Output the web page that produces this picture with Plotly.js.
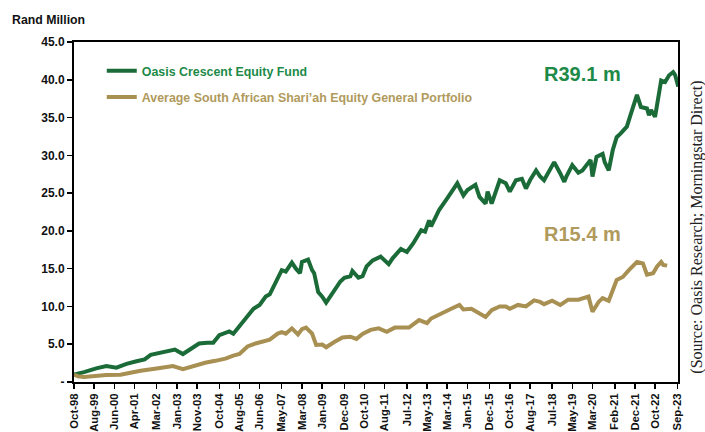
<!DOCTYPE html>
<html>
<head>
<meta charset="utf-8">
<script src="https://cdn.plot.ly/plotly-3.0.1.min.js"></script>
<style>
html,body{margin:0;padding:0;background:#fff;}
#chart{width:705px;height:432px;}
</style>
</head>
<body>
<div id="chart"></div>
<script>
// Oasis Crescent Equity Fund (Rand Million)
var fundDates = ['1998-10','1999-03','1999-09','2000-02','2000-07','2000-12','2001-05','2001-09','2001-12','2002-05','2002-09','2002-12','2003-04','2003-09','2003-12','2004-04','2004-07','2004-10','2005-03','2005-05','2005-10','2006-01','2006-03','2006-06','2006-09','2006-11','2007-02','2007-05','2007-07','2007-10','2007-12','2008-02','2008-03','2008-06','2008-08','2008-09','2008-11','2009-01','2009-03','2009-05','2009-07','2009-10','2009-12','2010-03','2010-04','2010-07','2010-09','2010-11','2011-02','2011-06','2011-10','2011-12','2012-04','2012-07','2012-10','2013-02','2013-04','2013-06','2013-07','2013-11','2014-03','2014-08','2014-11','2015-01','2015-05','2015-07','2015-10','2015-11','2016-01','2016-05','2016-08','2016-10','2017-01','2017-04','2017-06','2017-08','2017-11','2018-01','2018-03','2018-06','2018-08','2018-11','2019-01','2019-02','2019-05','2019-08','2019-10','2020-02','2020-03','2020-05','2020-08','2020-09','2020-11','2021-01','2021-03','2021-05','2021-08','2021-10','2022-01','2022-03','2022-06','2022-07','2022-08','2022-10','2022-12','2023-01','2023-03','2023-05','2023-07','2023-08','2023-09-15'];
var fundValues = [1.0,1.3,1.8,2.1,1.9,2.4,2.75,3.0,3.6,3.9,4.1,4.3,3.7,4.5,5.1,5.2,5.2,6.2,6.7,6.4,8.0,9.1,9.7,10.2,11.3,11.6,13.1,14.8,14.6,15.8,15.0,14.4,15.9,16.2,14.8,14.4,11.9,11.3,10.5,11.3,12.2,13.3,13.8,14.0,14.7,13.8,14.0,15.3,16.1,16.6,15.6,16.4,17.6,17.2,18.3,20.1,19.9,21.4,20.6,22.8,24.3,26.3,24.7,25.4,26.1,24.5,23.6,25.2,23.6,26.7,26.3,25.2,26.7,26.9,25.6,26.7,28.0,27.2,26.7,28.0,29.1,27.6,26.5,27.2,28.7,27.7,28.0,29.4,27.2,29.8,30.2,29.1,28.0,30.7,32.4,32.9,33.8,35.5,38.0,36.4,36.2,35.3,36.0,35.1,38.2,39.9,39.7,40.6,41.0,40.6,39.1];

// Average South African Shari'ah Equity General Portfolio (Rand Million)
var peerDates = ['1998-10','1998-12','1999-03','1999-08','2000-02','2000-09','2000-12','2001-07','2002-03','2002-11','2003-04','2003-09','2004-03','2004-08','2005-01','2005-05','2005-08','2005-12','2006-04','2006-11','2007-03','2007-05','2007-07','2007-10','2008-01','2008-03','2008-05','2008-08','2008-10','2009-01','2009-03','2009-07','2009-11','2010-03','2010-06','2010-09','2011-01','2011-05','2011-09','2012-01','2012-04','2012-08','2013-01','2013-05','2013-07','2013-12','2014-05','2014-09','2014-11','2015-03','2015-07','2015-10','2016-01','2016-05','2016-08','2016-10','2017-02','2017-06','2017-10','2018-01','2018-03','2018-07','2018-11','2019-03','2019-08','2020-01','2020-03','2020-06','2020-08','2020-11','2021-03','2021-06','2021-09','2022-01','2022-04','2022-06','2022-09','2022-11','2023-01','2023-02','2023-04'];
var peerValues = [1.0,0.75,0.65,0.8,0.93,0.95,1.15,1.5,1.8,2.1,1.7,2.1,2.55,2.8,3.1,3.5,3.7,4.7,5.1,5.6,6.4,6.6,6.4,7.1,6.3,7.0,7.2,6.4,4.9,4.95,4.6,5.3,5.9,6.0,5.7,6.35,6.9,7.1,6.65,7.2,7.2,7.2,8.2,7.8,8.4,9.1,9.7,10.2,9.6,9.7,9.1,8.6,9.5,10.0,10.0,9.7,10.2,10.0,10.8,10.6,10.3,10.75,10.2,10.9,10.9,11.3,9.3,10.6,11.1,10.75,13.5,13.9,14.8,15.9,15.7,14.2,14.4,15.3,15.9,15.5,15.4];

var seriesNames = ['Oasis Crescent Equity Fund', 'Average South African Shari\u2019ah Equity General Portfolio'];
var endLabels = ['R39.1 m', 'R15.4 m'];

var xTickDates = ['1998-10-01','1999-08-01','2000-06-01','2001-04-01','2002-03-01','2003-01-01','2003-11-01','2004-10-01','2005-08-01','2006-06-01','2007-05-01','2008-03-01','2009-01-01','2009-12-01','2010-10-01','2011-08-01','2012-07-01','2013-05-01','2014-03-01','2015-01-01','2015-12-01','2016-10-01','2017-08-01','2018-07-01','2019-05-01','2020-03-01','2021-02-01','2021-12-01','2022-10-01','2023-09-01'];
var xTickLabels = ['Oct-98','Aug-99','Jun-00','Apr-01','Mar-02','Jan-03','Nov-03','Oct-04','Aug-05','Jun-06','May-07','Mar-08','Jan-09','Dec-09','Oct-10','Aug-11','Jul-12','May-13','Mar-14','Jan-15','Dec-15','Oct-16','Aug-17','Jul-18','May-19','Mar-20','Feb-21','Dec-21','Oct-22','Sep-23'];
var yTickVals = [0,5,10,15,20,25,30,35,40,45];
var yTickLabels = ['-','5.0','10.0','15.0','20.0','25.0','30.0','35.0','40.0','45.0'];

var GREEN = '#1b6b38', GOLD = '#a88f52';
var GREEN_TXT = '#1d8a48', GOLD_TXT = '#b09a5c';
var SANS = 'Liberation Sans, Arial, sans-serif';

var traces = [
  {x: fundDates, y: fundValues, type: 'scatter', mode: 'lines',
   name: '<span style="color:' + GREEN_TXT + '">' + seriesNames[0] + '</span>',
   legendgroup: 'a', line: {color: GREEN, width: 4}, hoverinfo: 'skip'},
  {x: peerDates, y: peerValues, type: 'scatter', mode: 'lines',
   name: '<span style="color:' + GOLD_TXT + '">' + seriesNames[1] + '</span>',
   legendgroup: 'b', line: {color: GOLD, width: 4}, hoverinfo: 'skip'}
];

var layout = {
  width: 705, height: 432,
  margin: {l: 74, r: 27, t: 42, b: 50},
  paper_bgcolor: '#fff', plot_bgcolor: '#fff',
  showlegend: true,
  legend: {x: 0.046, y: 0.958, xanchor: 'left', yanchor: 'top',
           bgcolor: 'rgba(0,0,0,0)', traceorder: 'grouped', tracegroupgap: 7,
           font: {family: SANS, size: 12.4, weight: 'bold'}},
  xaxis: {type: 'date', range: ['1998-10-01', '2023-09-12'],
          tickmode: 'array', tickvals: xTickDates, ticktext: xTickLabels,
          tickangle: -90, tickfont: {family: SANS, size: 11.3, color: '#111', weight: 'bold'},
          ticks: 'outside', ticklen: 5, tickwidth: 1.5, tickcolor: '#000',
          showline: true, linecolor: '#000', linewidth: 2, mirror: true,
          showgrid: false, zeroline: false, automargin: false, fixedrange: true},
  yaxis: {range: [0, 45], tickmode: 'array', tickvals: yTickVals, ticktext: yTickLabels,
          tickfont: {family: SANS, size: 12, color: '#111', weight: 'bold'},
          ticks: 'outside', ticklen: 5, tickwidth: 1.5, tickcolor: '#000',
          showline: true, linecolor: '#000', linewidth: 2, mirror: true,
          showgrid: false, zeroline: false, automargin: false, fixedrange: true},
  annotations: [
    {xref: 'paper', yref: 'paper', x: -0.106, y: 1.065, xanchor: 'left', yanchor: 'middle',
     text: 'Rand Million', showarrow: false, font: {family: SANS, size: 12.3, color: '#111', weight: 'bold'}},
    {xref: 'paper', yref: 'paper', x: 0.842, y: 0.905, xanchor: 'center', yanchor: 'middle',
     text: endLabels[0], showarrow: false, font: {family: SANS, size: 20, color: GREEN_TXT, weight: 'bold'}},
    {xref: 'paper', yref: 'paper', x: 0.842, y: 0.435, xanchor: 'center', yanchor: 'middle',
     text: endLabels[1], showarrow: false, font: {family: SANS, size: 20, color: GOLD_TXT, weight: 'bold'}},
    {xref: 'paper', yref: 'paper', x: 1.031, y: 0.456, xanchor: 'center', yanchor: 'middle',
     text: '(Source: Oasis Research; Morningstar Direct)', textangle: -90, showarrow: false,
     font: {family: 'Liberation Serif, Times New Roman, serif', size: 16, color: '#222'}}
  ]
};

Plotly.newPlot('chart', traces, layout, {staticPlot: true, displayModeBar: false});
</script>
</body>
</html>
